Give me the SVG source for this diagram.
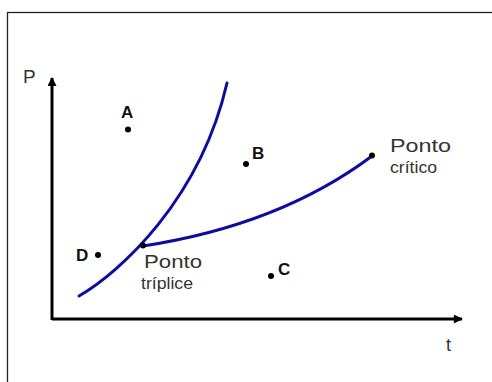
<svg xmlns="http://www.w3.org/2000/svg" width="492" height="382" viewBox="0 0 492 382">
<style>
.axis{stroke:#000;stroke-width:3;fill:none}
.curve{stroke:#0c0ca0;stroke-width:3;fill:none;stroke-linecap:round}
.dot{fill:#000}
.lbl{font-family:"Liberation Sans",Arial,sans-serif;font-weight:bold;font-size:17px;fill:#111}
.txt{font-family:"Liberation Sans",Arial,sans-serif;fill:#333}
</style>
<defs>
<marker id="arr" viewBox="0 0 10 10" refX="9" refY="5" markerWidth="3.3" markerHeight="3" orient="auto" markerUnits="strokeWidth">
<path d="M0,0 L10,5 L0,10 z" fill="#000"/>
</marker>
</defs>
<rect x="7.5" y="12.5" width="490" height="380" fill="#fff" stroke="#222" stroke-width="1.3"/>
<g id="axes">
<path class="axis" d="M52,320 V78" marker-end="url(#arr)"/>
<path class="axis" d="M52,319 H462" marker-end="url(#arr)"/>
<text class="txt" x="23" y="83" font-size="19" fill="#444">P</text>
<text class="txt" x="446" y="351" font-size="18" fill="#444">t</text>
</g>
<g id="connectors">
<path class="curve" d="M79,296 C120,272 200,200 227,83"/>
<path class="curve" d="M143,246 Q280,225 372,156"/>
</g>
<g id="pointA"><circle class="dot" cx="128" cy="129.5" r="3"/><text class="lbl" x="121" y="118">A</text></g>
<g id="pointB"><circle class="dot" cx="246" cy="164" r="3"/><text class="lbl" x="252" y="159">B</text></g>
<g id="pointC"><circle class="dot" cx="271" cy="276" r="3"/><text class="lbl" x="278" y="275">C</text></g>
<g id="pointD"><circle class="dot" cx="98" cy="255" r="3"/><text class="lbl" x="76" y="261">D</text></g>
<g id="triple"><circle class="dot" cx="143" cy="245.5" r="3"/>
<text class="txt" x="144" y="268" font-size="19" textLength="58" lengthAdjust="spacingAndGlyphs">Ponto</text>
<text class="txt" x="141" y="289" font-size="17" textLength="52" lengthAdjust="spacingAndGlyphs">tríplice</text>
</g>
<g id="critical"><circle class="dot" cx="372" cy="155.5" r="3"/>
<text class="txt" x="390" y="152" font-size="19" textLength="61" lengthAdjust="spacingAndGlyphs">Ponto</text>
<text class="txt" x="390" y="173" font-size="16" textLength="47" lengthAdjust="spacingAndGlyphs">crítico</text>
</g>
</svg>
